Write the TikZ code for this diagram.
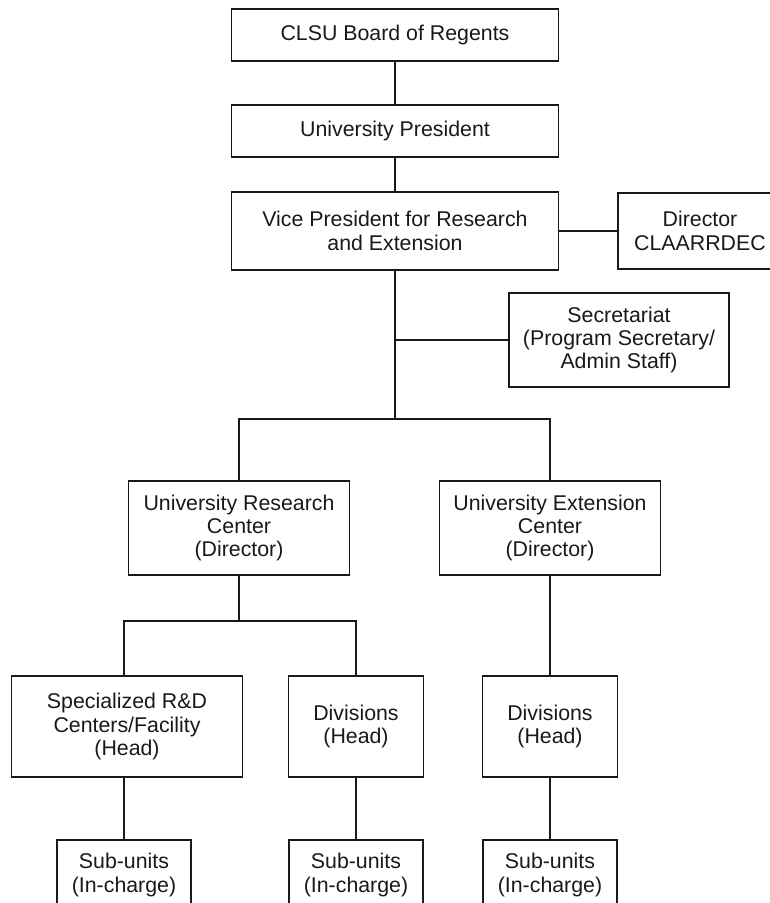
\documentclass[tikz,border=0pt]{standalone}
\usepackage{fontspec}
\setmainfont{Liberation Sans}
\definecolor{LineClr}{rgb}{0.1,0.1,0.1}

\begin{document}
\begin{tikzpicture}[x=0.75pt,y=-0.75pt,
  unit/.style={draw=LineClr,line width=1.1pt,align=center,inner sep=0pt,
    text=LineClr,font=\fontsize{16}{17.6}\selectfont},
  sized/.style 2 args={minimum width=#1*0.75pt,minimum height=#2*0.75pt},
  link/.style={draw=LineClr,line width=1.1pt}]
\useasboundingbox (0,0) rectangle (770,903);

\node[unit,sized={327}{52}] (BOR) at (395,35) {CLSU Board of Regents};
\node[unit,sized={327}{52}] (PRES) at (395,131) {University President};
\node[unit,sized={327}{78}] (VPRE) at (395,231) {Vice President for Research\\and Extension};
\node[unit,sized={164}{76}] (DIR) at (700,231) {Director\\CLAARRDEC};
\node[unit,sized={220}{94}] (SEC) at (619,340) {Secretariat\\(Program Secretary/\\Admin Staff)};

\node[unit,sized={221}{94}] (URC) at (239,528) {University Research\\Center\\(Director)};
\node[unit,sized={221}{94}] (UEC) at (550,528) {University Extension\\Center\\(Director)};

\node[unit,sized={231}{101}] (SPEC) at (127,726.5) {Specialized R\&D\\Centers/Facility\\(Head)};
\node[unit,sized={135}{101}] (DIVR) at (356,726.5) {Divisions\\(Head)};
\node[unit,sized={135}{101}] (DIVE) at (550,726.5) {Divisions\\(Head)};

\node[unit,sized={134}{70}] (SUBA) at (124,875) {Sub-units\\(In-charge)};
\node[unit,sized={134}{70}] (SUBB) at (356,875) {Sub-units\\(In-charge)};
\node[unit,sized={134}{70}] (SUBC) at (550,875) {Sub-units\\(In-charge)};

\coordinate (SECJ) at (VPRE.south |- SEC.west);
\coordinate (VSPLIT) at (395,419);
\coordinate (RSPLIT) at (239,621);

\draw[link] (BOR) -- (PRES);
\draw[link] (PRES) -- (VPRE);
\draw[link] (VPRE) -- (DIR);
\draw[link] (VPRE.south) -- (VSPLIT);
\draw[link] (SEC.west) -- (SECJ);
\draw[link] (URC.north) |- (VSPLIT) -| (UEC.north);

\draw[link] (URC.south) -- (RSPLIT);
\draw[link] (SPEC.north -| SUBA.north) |- (RSPLIT) -| (DIVR.north);
\draw[link] (UEC.south) -- (DIVE.north);

\draw[link] (SPEC.south -| SUBA.north) -- (SUBA.north);
\draw[link] (DIVR.south) -- (SUBB.north);
\draw[link] (DIVE.south) -- (SUBC.north);

\end{tikzpicture}
\end{document}
